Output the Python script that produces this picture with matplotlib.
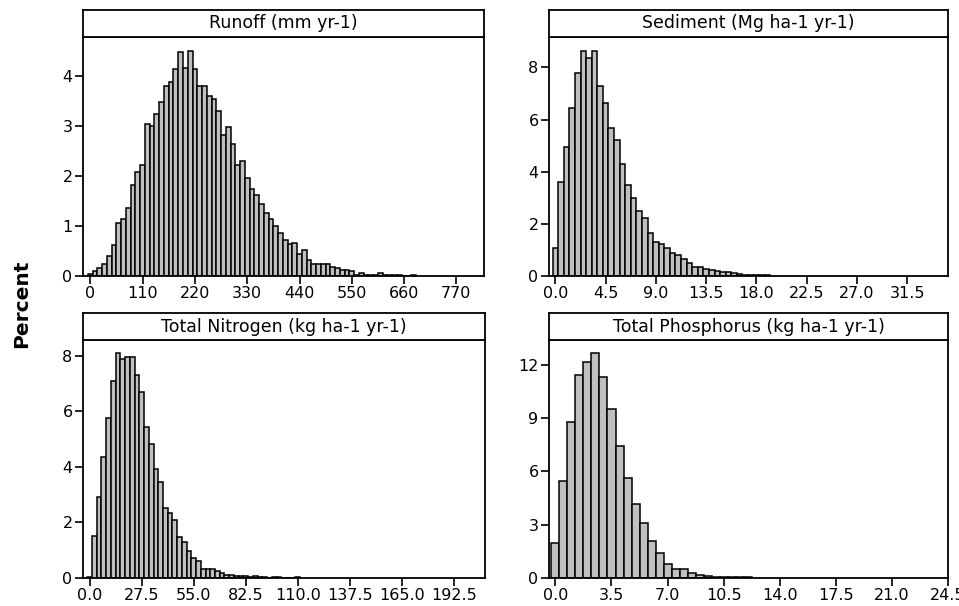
import numpy as np
import matplotlib
matplotlib.use("Agg")
import matplotlib.pyplot as plt

plt.rcParams['font.family'] = ['DejaVu Sans']

# percent per bin
runoff_pct = [0.05, 0.10, 0.17, 0.25, 0.40, 0.62, 1.07, 1.15, 1.37, 1.82,
              2.09, 2.23, 3.05, 3.01, 3.24, 3.49, 3.80, 3.88, 4.14, 4.48,
              4.17, 4.51, 4.14, 3.80, 3.80, 3.61, 3.54, 3.30, 2.83, 2.98,
              2.65, 2.22, 2.31, 1.97, 1.74, 1.62, 1.45, 1.27, 1.15, 1.01,
              0.87, 0.73, 0.65, 0.67, 0.44, 0.52, 0.33, 0.25, 0.25, 0.25,
              0.25, 0.19, 0.17, 0.12, 0.12, 0.11, 0.03, 0.06, 0.03, 0.03,
              0.03, 0.06, 0.03, 0.02, 0.02, 0.02, 0.01, 0.0, 0.02]
sediment_pct = [1.09, 3.60, 4.95, 6.44, 7.80, 8.64, 8.38, 8.64, 7.29, 6.65,
                5.66, 5.23, 4.31, 3.51, 3.00, 2.51, 2.23, 1.66, 1.32, 1.21,
                1.09, 0.87, 0.79, 0.66, 0.51, 0.36, 0.33, 0.28, 0.23, 0.20,
                0.16, 0.16, 0.13, 0.06, 0.05, 0.05, 0.04, 0.04, 0.03]
nitrogen_pct = [0.05, 1.52, 2.93, 4.34, 5.74, 7.10, 8.10, 7.87, 7.96, 7.96,
                7.29, 6.69, 5.42, 4.81, 3.92, 3.47, 2.52, 2.33, 2.07, 1.46,
                1.31, 0.96, 0.72, 0.60, 0.32, 0.32, 0.32, 0.24, 0.18, 0.12,
                0.12, 0.06, 0.06, 0.06, 0.02, 0.06, 0.03, 0.03, 0.0, 0.04,
                0.04, 0.0, 0.0, 0.0, 0.05]
phosphorus_pct = [1.97, 5.43, 8.76, 11.40, 12.13, 12.67, 11.29, 9.51, 7.43, 5.62,
                  4.17, 3.12, 2.06, 1.40, 0.79, 0.51, 0.51, 0.28, 0.19, 0.10,
                  0.08, 0.08, 0.06, 0.05, 0.04]

titles = ['Runoff (mm yr-1)', 'Sediment (Mg ha-1 yr-1)',
          'Total Nitrogen (kg ha-1 yr-1)', 'Total Phosphorus (kg ha-1 yr-1)']
bin_widths = [10, 0.5, 2.5, 0.5]
xticks_all = [np.arange(0, 771, 110), np.arange(0, 31.6, 4.5),
              np.arange(0, 192.6, 27.5), np.arange(0, 24.6, 3.5)]
xfmt = ['{:.0f}', '{:.1f}', '{:.1f}', '{:.1f}']
yticks_all = [[0, 1, 2, 3, 4], [0, 2, 4, 6, 8], [0, 2, 4, 6, 8], [0, 3, 6, 9, 12]]
xlims = [(-15.3, 828), (-0.57, 35.15), (-3.5, 208.9), (-0.4, 24.5)]
ylims = [4.78, 9.17, 8.56, 13.39]
data = [runoff_pct, sediment_pct, nitrogen_pct, phosphorus_pct]

W, H = 959, 606
fig = plt.figure(figsize=(W / 100, H / 100), dpi=100)

# panel boxes in pixels: left, right, plot top, plot bottom
boxes = [(83, 484, 37, 276), (549, 948, 37, 276),
         (83, 485, 340, 578), (549, 948, 340, 578)]
strip_h = 27

for i in range(4):
    l, r, t, b = boxes[i]
    ax = fig.add_axes([l / W, (H - b) / H, (r - l) / W, (b - t) / H])
    vals = data[i]
    centers = np.arange(len(vals)) * bin_widths[i]
    ax.bar(centers, vals, width=bin_widths[i], color='#c0c0c0',
           edgecolor='black', linewidth=1.1)
    ax.set_xlim(*xlims[i])
    ax.set_ylim(0, ylims[i])
    ax.set_xticks(xticks_all[i])
    ax.set_xticklabels([xfmt[i].format(v) for v in xticks_all[i]])
    ax.set_yticks(yticks_all[i])
    ax.tick_params(direction='out', length=5.5, width=1.2, labelsize=11.5,
                   pad=2, colors='black')
    for s in ax.spines.values():
        s.set_linewidth(1.3)

    # title strip above the panel
    sax = fig.add_axes([l / W, (H - t) / H, (r - l) / W, strip_h / H])
    sax.set_xticks([])
    sax.set_yticks([])
    for s in sax.spines.values():
        s.set_linewidth(1.3)
    sax.text(0.5, 0.5, titles[i], ha='center', va='center', fontsize=12.5,
             transform=sax.transAxes)

fig.text(22 / W, 1 - 304 / H, 'Percent', rotation=90, ha='center',
         va='center', fontsize=14.5, fontweight='bold')

plt.savefig('out.png', dpi=100)
